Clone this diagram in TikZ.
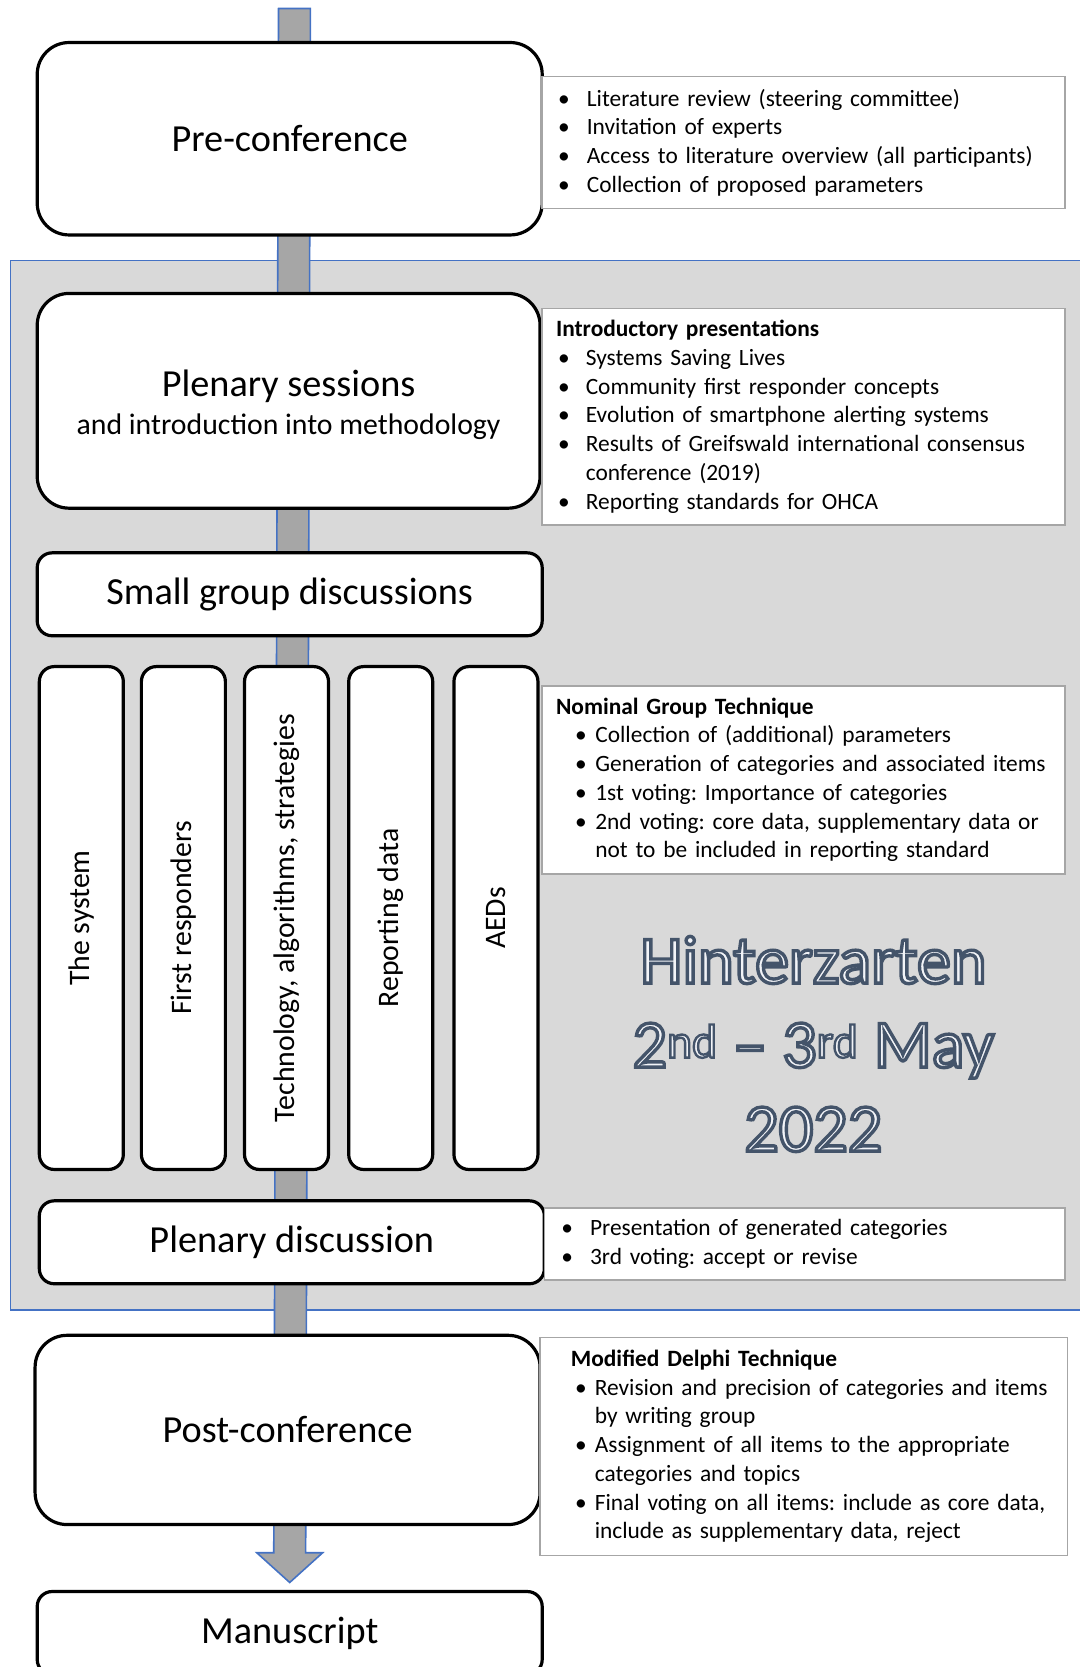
\documentclass[tikz,border=0pt]{standalone}
\usepackage{fontspec}
\setmainfont{Carlito}
\newfontfamily\hintfont[FakeBold=5]{Carlito}
\usetikzlibrary{calc,backgrounds}
\frenchspacing

\definecolor{framegray}{HTML}{D9D9D9}
\definecolor{frameblue}{HTML}{4472C4}
\definecolor{shaftgray}{HTML}{A6A6A6}
\definecolor{notegray}{HTML}{A6A6A6}

\newcommand{\bul}[3]{\hspace*{#1}\makebox[#2][l]{\textbullet}\mbox{#3}}
\newcommand{\cnt}[2]{\hspace*{#1}\mbox{#2}}
% light fill, dark slate outline
\newcommand{\hz}[1]{\special{pdf:bcolor [0.949 0.957 0.973] [0.267 0.329 0.416]}#1\special{pdf:ecolor}}

\tikzset{
  stage/.style={draw=black, line width=3pt, fill=white, rounded corners=30pt,
    minimum width=475pt, align=center, font=\fontsize{36}{39}\selectfont},
  slab/.style={stage, rounded corners=14pt, minimum height=78pt},
  topic/.style={slab, rotate=90, minimum width=473pt, minimum height=79pt,
    font=\fontsize{28}{32}\selectfont},
  note/.style={draw=notegray, line width=1.5pt, fill=white, align=left,
    inner ysep=0pt, font=\fontsize{22}{27}\selectfont},
  confframe/.style={draw=frameblue, line width=1.5pt, fill=framegray},
  shaft/.style={draw=frameblue, line width=1.5pt, fill=shaftgray},
  hint/.style={align=center, font=\hintfont\fontsize{64}{79}\selectfont}
}

\begin{document}
\begin{tikzpicture}[x=1pt,y=1pt]
	\useasboundingbox (0,0) rectangle (1015,-1568);
	% main stages
	\node[stage, minimum height=181pt] (pre) at (272.5,-130.5) {Pre-conference};
	\node[stage, minimum width=473pt, minimum height=202pt] (plen) at (271.5,-377) {\rule{0pt}{33pt}Plenary sessions\\[-3pt]{\fontsize{28}{32}\selectfont and introduction into methodology}};
	\node[slab] (small) at (272.5,-559) {Small group discussions};
	%topics
	\node[topic] (sys) at (76.5,-863.5) {The system};
	\node[topic] (resp) at (172.5,-863.5) {First responders};
	\node[topic] (tech) at (269.5,-863.5) {Technology, algorithms, strategies};
	\node[topic] (rep) at (367.5,-863.5) {Reporting data};
	\node[topic] (aed) at (466.5,-863.5) {AEDs};
	\node[slab] (disc) at (274.5,-1168.5) {Plenary discussion};
	\node[stage, minimum height=178pt] (post) at (270.5,-1345) {Post-conference};
	\node[slab] (manu) at (272.5,-1536) {Manuscript};
	% notes
	\node[note, text width=462pt, inner xsep=15pt, minimum height=124pt] (prenote) at (756,-134) {
		\bul{0pt}{27pt}{Literature review (steering committee)}\\
		\bul{0pt}{27pt}{Invitation of experts}\\
		\bul{0pt}{27pt}{Access to literature overview (all participants)}\\
		\bul{0pt}{27pt}{Collection of proposed parameters}};
	\node[note, text width=466pt, inner xsep=13pt, minimum height=204pt] (plennote) at (756,-392) {
		\textbf{Introductory presentations}\\
		\bul{2pt}{26pt}{Systems Saving Lives}\\
		\bul{2pt}{26pt}{Community first responder concepts}\\
		\bul{2pt}{26pt}{Evolution of smartphone alerting systems}\\
		\bul{2pt}{26pt}{Results of Greifswald international consensus}\\
		\cnt{28pt}{conference (2019)}\\
		\bul{2pt}{26pt}{Reporting standards for OHCA}};
	\node[note, text width=466pt, inner xsep=13pt, minimum height=177pt] (ngtnote) at (756,-733.5) {
		\textbf{Nominal Group Technique}\\
		\bul{18pt}{19pt}{Collection of (additional) parameters}\\
		\bul{18pt}{19pt}{Generation of categories and associated items}\\
		\bul{18pt}{19pt}{1st voting: Importance of categories}\\
		\bul{18pt}{19pt}{2nd voting: core data, supplementary data or}\\
		\cnt{37pt}{not to be included in reporting standard}};
	\node[note, text width=458pt, inner xsep=16pt, minimum height=68pt] (discnote) at (757,-1170) {
		\bul{0pt}{27pt}{Presentation of generated categories}\\
		\bul{0pt}{27pt}{3rd voting: accept or revise}};
	\node[note, text width=438pt, inner xsep=29pt, minimum height=205pt] (postnote) at (756,-1360.5) {
		\textbf{Modified Delphi Technique}\\
		\bul{4pt}{18.5pt}{Revision and precision of categories and items}\\
		\cnt{22.5pt}{by writing group}\\
		\bul{4pt}{18.5pt}{Assignment of all items to the appropriate}\\
		\cnt{22.5pt}{categories and topics}\\
		\bul{4pt}{18.5pt}{Final voting on all items: include as core data,}\\
		\cnt{22.5pt}{include as supplementary data, reject}};
	% venue
	\node[hint] (venue) at (765,-982) {\hz{Hinterzarten}\\\hz{2\textsuperscript{nd} \textendash{} 3\textsuperscript{rd} May}\\\hz{2022}};
	% frame and arrow behind
	\begin{scope}[on background layer]
		\draw[confframe] (10,-245) rectangle (1030,-1232);
		\coordinate (top) at (277,-8);
		\coordinate (tip) at ($(manu.north)+(0,7)$);
		\draw[shaft] ($(top)+(-15,0)$) -- ($(top)+(15,0)$) -- ($(tip)+(15,28)$) -- ($(tip)+(31,28)$) -- (tip) -- ($(tip)+(-31,28)$) -- ($(tip)+(-15,28)$) -- cycle;
	\end{scope}
\end{tikzpicture}
\end{document}
